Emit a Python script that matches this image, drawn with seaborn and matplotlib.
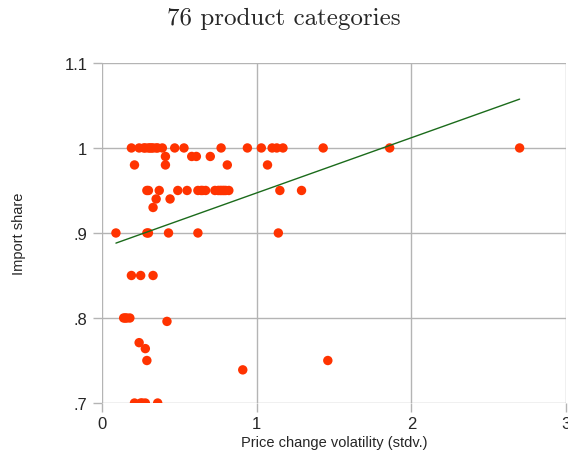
import numpy as np
import pandas as pd
import seaborn as sns
import matplotlib
matplotlib.use("Agg")
import matplotlib.pyplot as plt

# volatilidad (x) y participacion de importaciones (y)
vol_100 = [0.19, 0.24, 0.27, 0.28, 0.30, 0.31, 0.32, 0.33, 0.35, 0.36, 0.39, 0.47, 0.53,
           0.77, 0.94, 1.03, 1.10, 1.13, 1.17, 1.43, 1.86, 2.70]
vol_099 = [0.41, 0.58, 0.61, 0.70]
vol_098 = [0.21, 0.41, 0.81, 1.07]
vol_095 = [0.29, 0.30, 0.37, 0.49, 0.55, 0.62, 0.64, 0.65, 0.67, 0.73, 0.75, 0.76, 0.77,
           0.78, 0.79, 0.80, 0.82, 1.15, 1.29]
vol_094 = [0.35, 0.44]
vol_093 = [0.33]
vol_090 = [0.09, 0.29, 0.30, 0.43, 0.62, 1.14]
vol_085 = [0.19, 0.25, 0.33]
vol_080 = [0.14, 0.15, 0.16, 0.18]
vol_070 = [0.21, 0.25, 0.26, 0.28, 0.36]
otros_x = [0.42, 0.24, 0.28, 0.29, 0.91, 1.46]
otros_y = [0.796, 0.771, 0.764, 0.75, 0.739, 0.75]

y_ticks = [0.7, 0.8, 0.9, 1.0, 1.1]
y_labels = [".7", ".8", ".9", "1", "1.1"]
x_ticks = [0, 1, 2, 3]

filas = [(vol_100, 1.00), (vol_099, 0.99), (vol_098, 0.98), (vol_095, 0.95),
         (vol_094, 0.94), (vol_093, 0.93), (vol_090, 0.90), (vol_085, 0.85),
         (vol_080, 0.80), (vol_070, 0.70)]
xs, ys = [], []
for vals, share in filas:
    xs += vals
    ys += [share] * len(vals)
xs += otros_x
ys += otros_y
df = pd.DataFrame({"volatility": xs, "share": ys})

sns.set_style("white")
plt.rcParams["font.family"] = ["Liberation Sans", "DejaVu Sans"]

fig = plt.figure(figsize=(5.68, 4.6), dpi=100)
ax = fig.add_axes([0.1796, 0.1217, 0.8169, 0.7393])

ax.grid(True, color="#b4b4b4", linewidth=1.0)
ax.set_axisbelow(True)
sns.scatterplot(data=df, x="volatility", y="share", ax=ax, color="#ff3300",
                s=46, edgecolor="none", zorder=3)
sns.regplot(data=df, x="volatility", y="share", ax=ax, scatter=False, ci=None,
            line_kws={"color": "#1b6b1b", "linewidth": 1.0, "zorder": 4})

ax.set_xlim(0, 3)
ax.set_ylim(0.7, 1.1)
ax.set_xticks(x_ticks)
ax.set_yticks(y_ticks)
ax.set_yticklabels(y_labels)
ax.tick_params(axis="both", length=6.5, width=1.0, color="#b4b4b4",
               labelsize=12, left=True, bottom=True)
ax.tick_params(axis="x", pad=3)
ax.tick_params(axis="y", pad=4)
for s in ax.spines.values():
    s.set_visible(False)

ax.set_xlabel("Price change volatility (stdv.)", fontsize=10.5, labelpad=3)
ax.set_ylabel("Import share", fontsize=10.5, labelpad=28)
fig.suptitle("76 product categories", fontsize=18, family=["cmr10"], y=0.982)

fig.savefig("out.png", dpi=100)
